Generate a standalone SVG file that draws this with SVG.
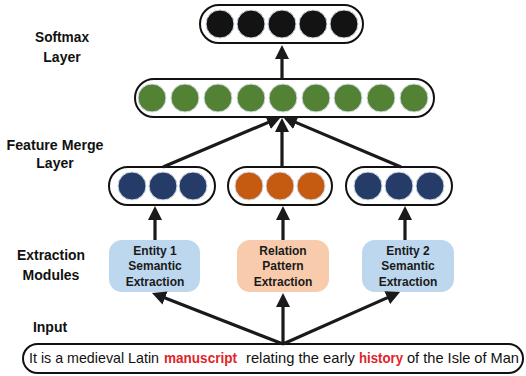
<svg xmlns="http://www.w3.org/2000/svg" width="526" height="376" viewBox="0 0 526 376">
<style>
.lbl{font-family:"Liberation Sans",Arial,sans-serif;font-weight:bold;font-size:14px;fill:#111;text-anchor:middle}
.mod{font-family:"Liberation Sans",Arial,sans-serif;font-weight:bold;font-size:12px;fill:#1a1a1a;text-anchor:middle}
.cont{fill:#fff;stroke:#111;stroke-width:2}
.c{stroke:#d3dbe8;stroke-width:1}
.k{fill:#131313}
.g{fill:#548235}
.n{fill:#253c69}
.o{fill:#c55a11}
.ar{stroke:#1a1a1a;stroke-width:3.2;fill:none;marker-end:url(#ah)}
.inp{font-family:"Liberation Sans",Arial,sans-serif;font-size:15px;fill:#111}
.red{font-weight:bold;fill:#e0242a}
</style>
<defs>
<marker id="ah" viewBox="0 0 14 14" markerWidth="14" markerHeight="14" refX="4" refY="7" orient="auto" markerUnits="userSpaceOnUse">
<path d="M0,0 L14,7 L0,14 z" fill="#1a1a1a"/>
</marker>
</defs>

<g id="labels">
<text class="lbl" x="62" y="42" textLength="54" lengthAdjust="spacingAndGlyphs">Softmax</text>
<text class="lbl" x="62" y="62">Layer</text>
<text class="lbl" x="55" y="150" textLength="97" lengthAdjust="spacingAndGlyphs">Feature Merge</text>
<text class="lbl" x="55" y="168">Layer</text>
<text class="lbl" x="51" y="260" textLength="68" lengthAdjust="spacingAndGlyphs">Extraction</text>
<text class="lbl" x="51" y="280">Modules</text>
<text class="lbl" x="50" y="332">Input</text>
</g>

<g id="softmax">
<rect class="cont" x="200" y="5" width="163" height="38" rx="19"/>
<circle class="c k" cx="220" cy="24" r="14"/>
<circle class="c k" cx="251" cy="24" r="14"/>
<circle class="c k" cx="282" cy="24" r="14"/>
<circle class="c k" cx="313" cy="24" r="14"/>
<circle class="c k" cx="344" cy="24" r="14"/>
</g>

<g id="merge">
<rect class="cont" x="135" y="79" width="299" height="38" rx="19"/>
<circle class="c g" cx="152" cy="98" r="14"/>
<circle class="c g" cx="185" cy="98" r="14"/>
<circle class="c g" cx="218" cy="98" r="14"/>
<circle class="c g" cx="251" cy="98" r="14"/>
<circle class="c g" cx="283" cy="98" r="14"/>
<circle class="c g" cx="316" cy="98" r="14"/>
<circle class="c g" cx="348" cy="98" r="14"/>
<circle class="c g" cx="381" cy="98" r="14"/>
<circle class="c g" cx="414" cy="98" r="14"/>
</g>

<g id="vec1">
<rect class="cont" x="109" y="167" width="106" height="38" rx="19"/>
<circle class="c n" cx="132" cy="186" r="14"/>
<circle class="c n" cx="163" cy="186" r="14"/>
<circle class="c n" cx="193" cy="186" r="14"/>
</g>
<g id="vec2">
<rect class="cont" x="228" y="167" width="104" height="38" rx="19"/>
<circle class="c o" cx="249" cy="186" r="14"/>
<circle class="c o" cx="280" cy="186" r="14"/>
<circle class="c o" cx="311" cy="186" r="14"/>
</g>
<g id="vec3">
<rect class="cont" x="346" y="167" width="106" height="38" rx="19"/>
<circle class="c n" cx="368" cy="186" r="14"/>
<circle class="c n" cx="399" cy="186" r="14"/>
<circle class="c n" cx="430" cy="186" r="14"/>
</g>

<g id="mod1">
<rect x="109" y="240" width="91" height="52" rx="13" fill="#bdd7ee"/>
<text class="mod" x="155" y="255">Entity 1</text>
<text class="mod" x="155" y="270">Semantic</text>
<text class="mod" x="155" y="286">Extraction</text>
</g>
<g id="mod2">
<rect x="237" y="240" width="92" height="52" rx="13" fill="#f8cbad"/>
<text class="mod" x="283" y="255">Relation</text>
<text class="mod" x="283" y="270">Pattern</text>
<text class="mod" x="283" y="286">Extraction</text>
</g>
<g id="mod3">
<rect x="362" y="240" width="92" height="52" rx="13" fill="#bdd7ee"/>
<text class="mod" x="408" y="255">Entity 2</text>
<text class="mod" x="408" y="270">Semantic</text>
<text class="mod" x="408" y="286">Extraction</text>
</g>

<g id="input">
<rect class="cont" x="23" y="344" width="500" height="29" rx="14.5"/>
<text class="inp" x="29" y="363" textLength="130" lengthAdjust="spacingAndGlyphs">It is a medieval Latin</text>
<text class="inp red" x="164" y="363" textLength="73" lengthAdjust="spacingAndGlyphs">manuscript</text>
<text class="inp" x="246" y="363" textLength="109" lengthAdjust="spacingAndGlyphs">relating the early</text>
<text class="inp red" x="359" y="363" textLength="44" lengthAdjust="spacingAndGlyphs">history</text>
<text class="inp" x="407" y="363" textLength="112" lengthAdjust="spacingAndGlyphs">of the Isle of Man</text>
</g>

<g id="connectors">
<line class="ar" x1="282" y1="79" x2="282" y2="55"/>
<line class="ar" x1="163" y1="167" x2="271.8" y2="120.9"/>
<line class="ar" x1="282" y1="167" x2="282" y2="128"/>
<line class="ar" x1="401" y1="167" x2="292.2" y2="120.9"/>
<line class="ar" x1="155" y1="240" x2="155" y2="216"/>
<line class="ar" x1="283" y1="240" x2="283" y2="216"/>
<line class="ar" x1="405" y1="240" x2="405" y2="216"/>
<line class="ar" x1="283" y1="344" x2="161.3" y2="296.6"/>
<line class="ar" x1="283" y1="344" x2="283" y2="303"/>
<line class="ar" x1="283" y1="344" x2="390.9" y2="296.1"/>
</g>
</svg>
